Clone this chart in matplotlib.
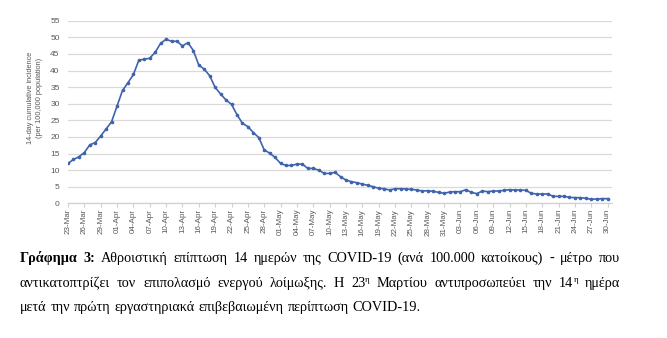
import numpy as np
import pandas as pd
import matplotlib.pyplot as plt

# Dati: incidenza cumulativa 14 giorni (per 100.000 abitanti)
giorni = pd.date_range("2020-03-23", "2020-06-30", freq="D")
incidenza = [
    12.0, 13.2, 14.0, 15.3, 17.6, 18.3, 20.3, 22.4, 24.6, 29.3,
    34.0, 36.3, 38.8, 43.1, 43.4, 43.7, 45.5, 48.2, 49.4, 48.8,
    48.8, 47.4, 48.4, 46.0, 41.6, 40.4, 38.4, 34.9, 32.9, 31.1,
    29.8, 26.7, 24.1, 23.1, 21.3, 19.8, 16.1, 15.1, 13.8, 12.0,
    11.4, 11.4, 11.8, 11.8, 10.5, 10.5, 10.0, 9.0, 9.0, 9.3,
    8.0, 7.0, 6.5, 6.2, 5.8, 5.4, 5.0, 4.5, 4.4, 4.0,
    4.4, 4.4, 4.3, 4.2, 4.0, 3.7, 3.8, 3.6, 3.3, 3.0,
    3.4, 3.5, 3.5, 4.1, 3.3, 2.9, 3.7, 3.5, 3.7, 3.7,
    3.9, 4.1, 4.0, 4.0, 3.9, 3.0, 2.8, 2.8, 2.8, 2.1,
    2.1, 2.1, 1.8, 1.7, 1.7, 1.5, 1.2, 1.3, 1.4, 1.4,
]
etichette_y = [0, 5, 10, 15, 20, 25, 30, 35, 40, 45, 50, 55]
passo_x = 3

grigio = "#595959"
blu = "#4063AD"

fig = plt.figure(figsize=(6.67, 3.38), dpi=100)
ax = fig.add_axes([68 / 667, 1 - 203.3 / 338, 544 / 667, 182.6 / 338])

x = np.arange(len(giorni))
ax.plot(x, incidenza, color=blu, lw=1.2, marker="o", ms=1.6, mec=blu, mfc=blu)

ax.set_xlim(0, 99.8)
ax.set_ylim(0, 55)
ax.set_yticks(etichette_y)
ax.set_yticklabels([str(v) for v in etichette_y], fontsize=6, color=grigio,
                   family="Liberation Sans")
ax.set_xticks(x[::passo_x])
ax.set_xticklabels([d.strftime("%d-%b") for d in giorni[::passo_x]],
                   rotation=90, fontsize=5.8, color=grigio, family="Liberation Sans")
ax.tick_params(axis="y", length=0, pad=6)
ax.tick_params(axis="x", length=3, color="#d0d0d0", pad=1)
ax.grid(axis="y", color="#d9d9d9", lw=0.9)
ax.set_axisbelow(True)
for s in ["top", "right", "left"]:
    ax.spines[s].set_visible(False)
ax.spines["bottom"].set_color("#d0d0d0")
ax.spines["bottom"].set_linewidth(0.9)

fig.text(35 / 667, 1 - 98 / 338, "14-day cumulative incidence\n(per 100,000 population)",
         rotation=90, ha="center", va="center", ma="center", fontsize=5.3,
         color=grigio, family="Liberation Sans", linespacing=1.3)

# Didascalia (giustificata)
renderer = fig.canvas.get_renderer()
fs = 10.3
x0, x1 = 20 / 667, 620 / 667


def riga(parole, y, giustifica):
    oggetti = []
    for p in parole:
        pezzi = []
        for testo, peso, sup in p:
            t = fig.text(0, y + (0.015 if sup else 0), testo,
                         fontsize=fs * 0.62 if sup else fs, fontweight=peso,
                         family="Liberation Serif", va="baseline", ha="left")
            pezzi.append(t)
        oggetti.append(pezzi)
    larghezze = []
    for pezzi in oggetti:
        w = [t.get_window_extent(renderer).width / 667 for t in pezzi]
        larghezze.append(w)
    totale = sum(sum(w) for w in larghezze)
    if giustifica:
        spazio = (x1 - x0 - totale) / (len(oggetti) - 1)
    else:
        spazio = 0.27 * fs * 100 / 72 / 667
    pos = x0
    for pezzi, w in zip(oggetti, larghezze):
        for t, wi in zip(pezzi, w):
            t.set_x(pos)
            pos += wi
        pos += spazio


def parole_da(testo):
    return [[(w, "normal", False)] for w in testo.split()]


r1 = [[("Γράφημα", "bold", False)], [("3:", "bold", False)]] + \
    parole_da("Αθροιστική επίπτωση 14 ημερών της COVID-19 (ανά 100.000 κατοίκους) - μέτρο που")
r2 = parole_da("αντικατοπτρίζει τον επιπολασμό ενεργού λοίμωξης. Η") + \
    [[("23", "normal", False), ("η", "normal", True)]] + \
    parole_da("Μαρτίου αντιπροσωπεύει την") + \
    [[("14", "normal", False), ("η", "normal", True)]] + \
    parole_da("ημέρα")
r3 = parole_da("μετά την πρώτη εργαστηριακά επιβεβαιωμένη περίπτωση COVID-19.")

riga(r1, 1 - 262 / 338, True)
riga(r2, 1 - 287 / 338, True)
riga(r3, 1 - 311 / 338, False)

fig.savefig("out.png", dpi=100)
